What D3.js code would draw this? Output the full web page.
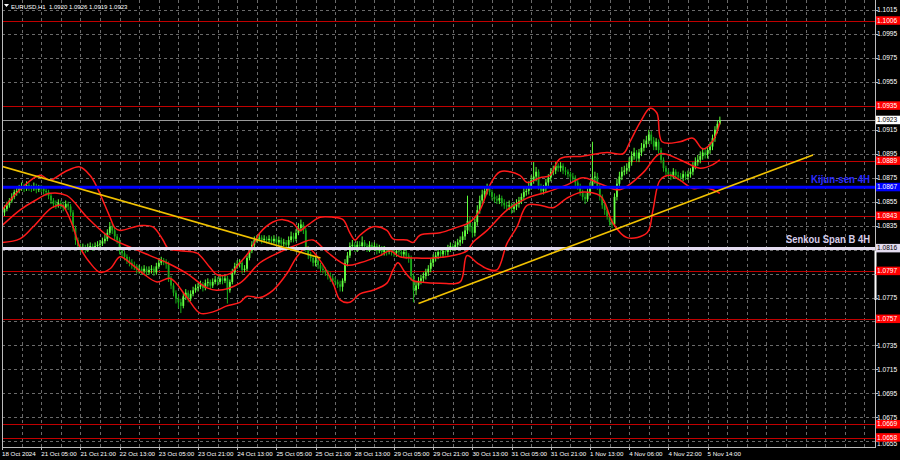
<!DOCTYPE html>
<html><head><meta charset="utf-8">
<script src="https://cdn.jsdelivr.net/npm/d3@7"></script>
<style>body{margin:0;background:#000}svg{display:block}</style>
</head><body><svg id="c" width="900" height="460"></svg>
<script>
const closes=[1.0846,1.0849,1.0852,1.0856,1.0859,1.0863,1.0864,1.0866,1.0868,1.0866,
1.0869,1.0867,1.0866,1.0868,1.0865,1.0867,1.0866,1.0864,1.0863,1.0860,
1.0856,1.0853,1.0852,1.0854,1.0852,1.0850,1.0853,1.0851,1.0846,1.0833,
1.0823,1.0818,1.0816,1.0817,1.0815,1.0817,1.0818,1.0817,1.0818,1.0819,
1.0820,1.0822,1.0824,1.0829,1.0834,1.0831,1.0826,1.0823,1.0814,1.0812,
1.0809,1.0806,1.0804,1.0802,1.0801,1.0798,1.0799,1.0797,1.0799,1.0796,
1.0798,1.0799,1.0796,1.0801,1.0804,1.0806,1.0805,1.0803,1.0791,1.0785,
1.0779,1.0774,1.0771,1.0768,1.0776,1.0779,1.0774,1.0778,1.0781,1.0783,
1.0784,1.0786,1.0783,1.0787,1.0788,1.0785,1.0788,1.0790,1.0788,1.0791,
1.0789,1.0791,1.0781,1.0788,1.0796,1.0801,1.0803,1.0804,1.0798,1.0799,
1.0808,1.0814,1.0819,1.0823,1.0824,1.0825,1.0823,1.0824,1.0823,1.0824,
1.0822,1.0824,1.0821,1.0823,1.0820,1.0821,1.0819,1.0823,1.0826,1.0824,
1.0829,1.0833,1.0836,1.0831,1.0816,1.0810,1.0808,1.0804,1.0806,1.0802,
1.0799,1.0798,1.0796,1.0793,1.0791,1.0789,1.0788,1.0786,1.0784,1.0789,
1.0804,1.0810,1.0818,1.0819,1.0816,1.0819,1.0818,1.0821,1.0818,1.0816,
1.0819,1.0817,1.0818,1.0814,1.0816,1.0813,1.0815,1.0813,1.0814,1.0813,
1.0812,1.0814,1.0813,1.0811,1.0813,1.0810,1.0808,1.0793,1.0781,1.0785,
1.0789,1.0791,1.0793,1.0796,1.0799,1.0804,1.0808,1.0810,1.0813,1.0811,
1.0814,1.0813,1.0816,1.0818,1.0817,1.0819,1.0821,1.0823,1.0826,1.0831,
1.0839,1.0834,1.0829,1.0838,1.0848,1.0856,1.0861,1.0864,1.0866,1.0863,
1.0859,1.0857,1.0856,1.0858,1.0854,1.0852,1.0851,1.0852,1.0849,1.0851,
1.0853,1.0856,1.0859,1.0863,1.0864,1.0868,1.0873,1.0876,1.0880,1.0868,
1.0864,1.0866,1.0871,1.0875,1.0880,1.0881,1.0885,1.0883,1.0885,1.0881,
1.0880,1.0878,1.0876,1.0875,1.0871,1.0868,1.0863,1.0859,1.0857,1.0863,
1.0868,1.0875,1.0876,1.0868,1.0859,1.0852,1.0848,1.0843,1.0838,1.0836,
1.0859,1.0870,1.0876,1.0880,1.0881,1.0883,1.0888,1.0893,1.0896,1.0891,
1.0896,1.0900,1.0903,1.0906,1.0911,1.0906,1.0901,1.0905,1.0898,1.0890,
1.0883,1.0880,1.0878,1.0876,1.0880,1.0877,1.0876,1.0875,1.0878,1.0876,
1.0878,1.0880,1.0885,1.0888,1.0890,1.0893,1.0896,1.0894,1.0898,1.0901,
1.0908,1.0915,1.0920,1.0923];
const opens=[1.0840,1.0846,1.0849,1.0852,1.0856,1.0859,1.0863,1.0864,1.0866,1.0868,
1.0866,1.0869,1.0867,1.0866,1.0868,1.0865,1.0867,1.0866,1.0864,1.0863,
1.0860,1.0856,1.0853,1.0852,1.0854,1.0852,1.0850,1.0853,1.0851,1.0846,
1.0833,1.0823,1.0818,1.0816,1.0817,1.0815,1.0817,1.0818,1.0817,1.0818,
1.0819,1.0820,1.0822,1.0824,1.0829,1.0834,1.0831,1.0826,1.0823,1.0814,
1.0812,1.0809,1.0806,1.0804,1.0802,1.0801,1.0798,1.0799,1.0797,1.0799,
1.0796,1.0798,1.0799,1.0796,1.0801,1.0804,1.0806,1.0805,1.0803,1.0791,
1.0785,1.0779,1.0774,1.0771,1.0768,1.0776,1.0779,1.0774,1.0778,1.0781,
1.0783,1.0784,1.0786,1.0783,1.0787,1.0788,1.0785,1.0788,1.0790,1.0788,
1.0791,1.0789,1.0791,1.0781,1.0788,1.0796,1.0801,1.0803,1.0804,1.0798,
1.0799,1.0808,1.0814,1.0819,1.0823,1.0824,1.0825,1.0823,1.0824,1.0823,
1.0824,1.0822,1.0824,1.0821,1.0823,1.0820,1.0821,1.0819,1.0823,1.0826,
1.0824,1.0829,1.0833,1.0836,1.0831,1.0816,1.0810,1.0808,1.0804,1.0806,
1.0802,1.0799,1.0798,1.0796,1.0793,1.0791,1.0789,1.0788,1.0786,1.0784,
1.0789,1.0804,1.0810,1.0818,1.0819,1.0816,1.0819,1.0818,1.0821,1.0818,
1.0816,1.0819,1.0817,1.0818,1.0814,1.0816,1.0813,1.0815,1.0813,1.0814,
1.0813,1.0812,1.0814,1.0813,1.0811,1.0813,1.0810,1.0808,1.0793,1.0781,
1.0785,1.0789,1.0791,1.0793,1.0796,1.0799,1.0804,1.0808,1.0810,1.0813,
1.0811,1.0814,1.0813,1.0816,1.0818,1.0817,1.0819,1.0821,1.0823,1.0826,
1.0831,1.0839,1.0834,1.0829,1.0838,1.0848,1.0856,1.0861,1.0864,1.0866,
1.0863,1.0859,1.0857,1.0856,1.0858,1.0854,1.0852,1.0851,1.0852,1.0849,
1.0851,1.0853,1.0856,1.0859,1.0863,1.0864,1.0868,1.0873,1.0876,1.0880,
1.0868,1.0864,1.0866,1.0871,1.0875,1.0880,1.0881,1.0885,1.0883,1.0885,
1.0881,1.0880,1.0878,1.0876,1.0875,1.0871,1.0868,1.0863,1.0859,1.0857,
1.0863,1.0868,1.0875,1.0876,1.0868,1.0859,1.0852,1.0848,1.0843,1.0838,
1.0836,1.0859,1.0870,1.0876,1.0880,1.0881,1.0883,1.0888,1.0893,1.0896,
1.0891,1.0896,1.0900,1.0903,1.0906,1.0911,1.0906,1.0901,1.0905,1.0898,
1.0890,1.0883,1.0880,1.0878,1.0876,1.0880,1.0877,1.0876,1.0875,1.0878,
1.0876,1.0878,1.0880,1.0885,1.0888,1.0890,1.0893,1.0896,1.0894,1.0898,
1.0901,1.0908,1.0915,1.0920];
const highs=[1.0849,1.0852,1.0855,1.0858,1.0862,1.0865,1.0867,1.0869,1.0871,1.0870,
1.0872,1.0871,1.0869,1.0871,1.0870,1.0869,1.0869,1.0868,1.0866,1.0865,
1.0862,1.0858,1.0856,1.0857,1.0856,1.0855,1.0856,1.0855,1.0853,1.0848,
1.0835,1.0825,1.0820,1.0820,1.0819,1.0820,1.0821,1.0820,1.0821,1.0822,
1.0823,1.0825,1.0828,1.0832,1.0838,1.0837,1.0833,1.0828,1.0825,1.0817,
1.0814,1.0811,1.0809,1.0807,1.0805,1.0803,1.0802,1.0801,1.0802,1.0801,
1.0801,1.0802,1.0801,1.0804,1.0808,1.0809,1.0808,1.0807,1.0805,1.0793,
1.0787,1.0781,1.0776,1.0774,1.0779,1.0782,1.0781,1.0781,1.0784,1.0786,
1.0787,1.0789,1.0788,1.0790,1.0791,1.0790,1.0791,1.0793,1.0792,1.0794,
1.0793,1.0794,1.0793,1.0790,1.0799,1.0804,1.0806,1.0807,1.0806,1.0802,
1.0810,1.0817,1.0822,1.0826,1.0827,1.0828,1.0827,1.0827,1.0826,1.0827,
1.0826,1.0827,1.0826,1.0826,1.0825,1.0824,1.0823,1.0826,1.0830,1.0829,
1.0832,1.0837,1.0840,1.0838,1.0833,1.0818,1.0813,1.0810,1.0809,1.0808,
1.0804,1.0802,1.0800,1.0798,1.0796,1.0794,1.0792,1.0790,1.0789,1.0791,
1.0807,1.0813,1.0821,1.0823,1.0821,1.0822,1.0822,1.0826,1.0823,1.0820,
1.0822,1.0821,1.0821,1.0820,1.0819,1.0818,1.0818,1.0817,1.0817,1.0816,
1.0815,1.0817,1.0816,1.0815,1.0816,1.0815,1.0812,1.0810,1.0795,1.0788,
1.0792,1.0794,1.0796,1.0799,1.0802,1.0807,1.0811,1.0813,1.0816,1.0815,
1.0817,1.0816,1.0819,1.0821,1.0820,1.0822,1.0824,1.0826,1.0830,1.0835,
1.0860,1.0843,1.0837,1.0841,1.0852,1.0860,1.0865,1.0868,1.0870,1.0868,
1.0865,1.0862,1.0860,1.0861,1.0860,1.0857,1.0855,1.0856,1.0854,1.0854,
1.0857,1.0859,1.0862,1.0867,1.0868,1.0872,1.0877,1.0888,1.0884,1.0882,
1.0870,1.0869,1.0874,1.0878,1.0883,1.0885,1.0888,1.0887,1.0888,1.0887,
1.0884,1.0882,1.0880,1.0879,1.0877,1.0873,1.0870,1.0865,1.0862,1.0866,
1.0871,1.0905,1.0880,1.0879,1.0870,1.0861,1.0854,1.0850,1.0845,1.0841,
1.0862,1.0874,1.0880,1.0884,1.0885,1.0887,1.0892,1.0897,1.0900,1.0898,
1.0899,1.0904,1.0907,1.0910,1.0915,1.0914,1.0909,1.0908,1.0907,1.0900,
1.0892,1.0885,1.0882,1.0880,1.0883,1.0882,1.0880,1.0879,1.0881,1.0880,
1.0881,1.0883,1.0888,1.0892,1.0894,1.0897,1.0900,1.0899,1.0901,1.0905,
1.0911,1.0918,1.0923,1.0926];
const lows=[1.0837,1.0843,1.0847,1.0850,1.0854,1.0857,1.0860,1.0862,1.0864,1.0863,
1.0864,1.0864,1.0863,1.0864,1.0862,1.0863,1.0863,1.0861,1.0860,1.0857,
1.0853,1.0850,1.0849,1.0850,1.0849,1.0847,1.0848,1.0848,1.0843,1.0830,
1.0819,1.0815,1.0813,1.0814,1.0812,1.0813,1.0815,1.0814,1.0815,1.0816,
1.0817,1.0818,1.0820,1.0822,1.0827,1.0828,1.0823,1.0820,1.0811,1.0809,
1.0806,1.0803,1.0801,1.0799,1.0798,1.0795,1.0795,1.0794,1.0795,1.0793,
1.0794,1.0795,1.0793,1.0794,1.0799,1.0802,1.0802,1.0799,1.0788,1.0782,
1.0776,1.0770,1.0766,1.0762,1.0766,1.0773,1.0771,1.0772,1.0776,1.0779,
1.0780,1.0782,1.0780,1.0781,1.0784,1.0782,1.0783,1.0786,1.0785,1.0786,
1.0786,1.0787,1.0770,1.0779,1.0786,1.0794,1.0799,1.0800,1.0795,1.0796,
1.0797,1.0806,1.0812,1.0817,1.0821,1.0822,1.0820,1.0821,1.0820,1.0821,
1.0819,1.0820,1.0818,1.0819,1.0817,1.0818,1.0816,1.0817,1.0821,1.0821,
1.0822,1.0827,1.0830,1.0828,1.0813,1.0807,1.0805,1.0801,1.0801,1.0799,
1.0796,1.0795,1.0793,1.0790,1.0788,1.0786,1.0785,1.0783,1.0780,1.0780,
1.0787,1.0801,1.0808,1.0815,1.0813,1.0813,1.0815,1.0815,1.0815,1.0813,
1.0813,1.0814,1.0814,1.0811,1.0812,1.0810,1.0810,1.0810,1.0811,1.0810,
1.0809,1.0809,1.0810,1.0808,1.0808,1.0807,1.0804,1.0789,1.0771,1.0777,
1.0782,1.0786,1.0788,1.0790,1.0793,1.0796,1.0801,1.0805,1.0807,1.0808,
1.0808,1.0810,1.0810,1.0813,1.0814,1.0814,1.0816,1.0818,1.0820,1.0823,
1.0828,1.0830,1.0825,1.0826,1.0835,1.0845,1.0853,1.0858,1.0861,1.0860,
1.0856,1.0854,1.0853,1.0853,1.0851,1.0849,1.0847,1.0848,1.0845,1.0846,
1.0848,1.0850,1.0853,1.0856,1.0860,1.0861,1.0865,1.0870,1.0872,1.0865,
1.0861,1.0861,1.0863,1.0868,1.0872,1.0877,1.0878,1.0880,1.0880,1.0878,
1.0877,1.0875,1.0873,1.0872,1.0868,1.0865,1.0860,1.0856,1.0853,1.0855,
1.0860,1.0866,1.0870,1.0865,1.0856,1.0849,1.0844,1.0840,1.0835,1.0833,
1.0834,1.0856,1.0867,1.0873,1.0877,1.0878,1.0880,1.0885,1.0890,1.0888,
1.0888,1.0893,1.0897,1.0900,1.0903,1.0903,1.0898,1.0898,1.0895,1.0887,
1.0880,1.0877,1.0875,1.0873,1.0874,1.0874,1.0873,1.0872,1.0872,1.0873,
1.0873,1.0875,1.0877,1.0882,1.0885,1.0887,1.0890,1.0891,1.0891,1.0895,
1.0898,1.0905,1.0912,1.0919];

// Bollinger-style envelope: [bar index, price]
const bandUpper=[[0,1.0848],[7.3,1.0865],[15.5,1.0877],[19.6,1.0873],[25.7,1.0880],[31.8,1.0884],[35.9,1.0877],[38.8,1.0867],[42,1.0852],[44.1,1.0842],[46.1,1.0833],[48.2,1.0831],[56.3,1.0835],[61.6,1.0834],[65.7,1.0823],[67.8,1.0816],[72.7,1.0814],[79.6,1.0812],[84.9,1.0800],[87.8,1.0794],[93.1,1.0795],[97.1,1.0804],[101.2,1.0814],[105.3,1.0829],[110.6,1.0838],[114.7,1.0840],[118.8,1.0837],[121.6,1.0831],[124.5,1.0835],[129.8,1.0842],[135.1,1.0842],[139.2,1.0840],[142,1.0829],[144.1,1.0823],[146.1,1.0827],[151.4,1.0834],[157.1,1.0831],[159.6,1.0824],[165.3,1.0823],[167.8,1.0821],[170.6,1.0827],[178.8,1.0829],[184.9,1.0833],[191,1.0838],[195.1,1.0848],[199.2,1.0869],[203.3,1.0880],[211.4,1.0877],[214.3,1.0871],[219.6,1.0875],[223.7,1.0877],[227.8,1.0891],[237.1,1.0893],[246.9,1.0896],[253.5,1.0895],[256.3,1.0905],[260.4,1.0921],[264.5,1.0933],[267.3,1.0929],[269.4,1.0905],[276.7,1.0905],[282,1.0908],[286.1,1.0899],[290.2,1.0906],[293,1.0921]];
const bandMiddle=[[0,1.0835],[7.3,1.0848],[13.5,1.0856],[19.6,1.0862],[26.5,1.0860],[34.7,1.0842],[44.1,1.0825],[53.5,1.0816],[60.4,1.0810],[67.3,1.0804],[75.5,1.0795],[83.7,1.0783],[87.8,1.0781],[97.1,1.0787],[105.3,1.0804],[113.5,1.0813],[121.6,1.0820],[126.9,1.0823],[132.7,1.0813],[140.8,1.0802],[146.1,1.0804],[154.3,1.0810],[158.4,1.0814],[162.4,1.0809],[169.4,1.0808],[175.9,1.0808],[184.1,1.0810],[189.8,1.0814],[192.2,1.0821],[198,1.0831],[206.1,1.0848],[214.3,1.0858],[222.4,1.0863],[230.6,1.0869],[237.1,1.0875],[244.1,1.0870],[252.2,1.0865],[261.6,1.0879],[268.6,1.0895],[276.7,1.0890],[284.9,1.0883],[290.2,1.0886],[293,1.0890]];
const bandLower=[[0,1.0821],[7.3,1.0824],[12.7,1.0834],[20.4,1.0850],[24.5,1.0852],[26.5,1.0846],[29,1.0834],[31.8,1.0817],[35.9,1.0804],[40,1.0796],[44.1,1.0799],[48.2,1.0809],[52.2,1.0804],[57.6,1.0795],[63.3,1.0788],[68.6,1.0791],[75.5,1.0775],[80.8,1.0762],[86.1,1.0763],[91.8,1.0768],[97.1,1.0771],[100,1.0776],[105.3,1.0775],[110.6,1.0781],[116.3,1.0795],[120.4,1.0809],[124.5,1.0817],[129.8,1.0806],[135.1,1.0787],[138,1.0773],[142,1.0771],[146.1,1.0778],[151.4,1.0781],[157.1,1.0787],[159.6,1.0798],[161.6,1.0804],[164.5,1.0796],[167.8,1.0789],[170.6,1.0788],[178.8,1.0787],[187,1.0788],[189.8,1.0810],[193.9,1.0804],[198,1.0799],[202,1.0798],[206.1,1.0820],[210.2,1.0834],[214.3,1.0852],[219.6,1.0852],[224.9,1.0850],[230.6,1.0858],[237.1,1.0863],[244.1,1.0860],[246.1,1.0854],[249.4,1.0837],[255.1,1.0825],[263.3,1.0829],[265.7,1.0848],[268.6,1.0873],[272.7,1.0877],[276.7,1.0873],[282,1.0866],[286.1,1.0867],[290.2,1.0865],[293,1.0862]];

const trendDown=[[-1,1.0885],[130,1.0808]];
const trendUp=[[170,1.0770],[331,1.0894]];

const redLevels=[1.1006,1.0935,1.0889,1.0843,1.0797,1.0757,1.0669,1.0658];
const kijunLevel=1.0867, senkouLevel=1.0816, bidLevel=1.0923;
const priceTicks=[1.1015,1.0995,1.0975,1.0955,1.0935,1.0915,1.0895,1.0875,1.0855,1.0835,1.0815,1.0795,1.0775,1.0755,1.0735,1.0715,1.0695,1.0675,1.0655];
const timeLabels=["18 Oct 2024","21 Oct 05:00","21 Oct 21:00","22 Oct 13:00","23 Oct 05:00","23 Oct 21:00","24 Oct 13:00","25 Oct 05:00","25 Oct 21:00","28 Oct 13:00","29 Oct 05:00","29 Oct 21:00","30 Oct 13:00","31 Oct 05:00","31 Oct 21:00","1 Nov 13:00","4 Nov 06:00","4 Nov 22:00","5 Nov 14:00"];
const title="EURUSD,H1  1.0920 1.0926 1.0919 1.0923";

const svg=d3.select("#c");
const W=900,H=460, left=2, right=875, bottom=447;
const x=d3.scaleLinear().domain([0,293]).range([2,2+293*2.45]);
const y=d3.scaleLinear().domain([1.0675,1.1015]).range([417.3,10]);
const font="Liberation Sans, Arial, sans-serif";
const fmt=d3.format(".4f");

svg.append("rect").attr("width",W).attr("height",H).attr("fill","#000");
const plot=svg.append("g");
svg.append("clipPath").attr("id","pc").append("rect").attr("x",left).attr("y",0).attr("width",right-left).attr("height",bottom);
const pg=plot.append("g").attr("clip-path","url(#pc)");

// grid
const gridStyle=s=>s.attr("stroke","#6a6a6a").attr("stroke-width",1).attr("stroke-dasharray","3,3").attr("shape-rendering","crispEdges");
pg.selectAll("line.hg").data(priceTicks).join("line").attr("class","hg")
  .attr("x1",left).attr("x2",right).attr("y1",d=>Math.round(y(d))+0.5).attr("y2",d=>Math.round(y(d))+0.5).call(gridStyle);
const vIdx=d3.range(0,360,8).filter(i=>x(i)<right-2);
pg.selectAll("line.vg").data(vIdx).join("line").attr("class","vg")
  .attr("x1",d=>Math.round(x(d))+0.5).attr("x2",d=>Math.round(x(d))+0.5).attr("y1",0).attr("y2",bottom).call(gridStyle);

// red levels
pg.selectAll("line.rl").data(redLevels).join("line").attr("class","rl")
  .attr("x1",left).attr("x2",right).attr("y1",d=>Math.round(y(d))+0.5).attr("y2",d=>Math.round(y(d))+0.5)
  .attr("stroke","#c00000").attr("stroke-width",1).attr("shape-rendering","crispEdges");
// bid line
pg.append("line").attr("x1",left).attr("x2",right).attr("y1",Math.round(y(bidLevel))+0.5).attr("y2",Math.round(y(bidLevel))+0.5)
  .attr("stroke","#9a9a9a").attr("stroke-width",1).attr("shape-rendering","crispEdges");

// candles
const bars=closes.map((c,i)=>({i,o:opens[i],h:highs[i],l:lows[i],c}));
const cg=pg.append("g");
cg.selectAll("line.w").data(bars).join("line")
  .attr("x1",d=>x(d.i)).attr("x2",d=>x(d.i)).attr("y1",d=>y(d.h)).attr("y2",d=>y(d.l))
  .attr("stroke",d=>d.c>=d.o?"#5cff3a":"#16b016").attr("stroke-width",1);
cg.selectAll("rect.b").data(bars).join("rect")
  .attr("x",d=>x(d.i)-0.9).attr("width",1.8)
  .attr("y",d=>y(Math.max(d.o,d.c))).attr("height",d=>Math.max(1,Math.abs(y(d.o)-y(d.c))))
  .attr("fill",d=>d.c>=d.o?"#66ff44":"#1aa81a");

// bands
const bl=d3.line().x(d=>x(d[0])).y(d=>y(d[1])).curve(d3.curveCatmullRom.alpha(0.5));
[bandUpper,bandMiddle,bandLower].forEach(b=>{
  pg.append("path").attr("d",bl(b)).attr("fill","none").attr("stroke","#ff1a1a").attr("stroke-width",1.5);
});

// kijun & senkou lines
pg.append("line").attr("x1",left).attr("x2",right).attr("y1",y(kijunLevel)).attr("y2",y(kijunLevel))
  .attr("stroke","#0000ff").attr("stroke-width",3);
pg.append("line").attr("x1",left).attr("x2",right).attr("y1",y(senkouLevel)).attr("y2",y(senkouLevel))
  .attr("stroke","#e4dcf0").attr("stroke-width",3);

// trend lines
const tl=d3.line().x(d=>x(d[0])).y(d=>y(d[1]));
[trendDown,trendUp].forEach(t=>{
  pg.append("path").attr("d",tl(t)).attr("stroke","#f2c200").attr("stroke-width",1.6).attr("fill","none");
});

// text labels on lines
pg.append("text").attr("x",870).attr("y",y(kijunLevel)-4).attr("text-anchor","end")
  .attr("font-family",font).attr("font-weight","bold").attr("font-size",11).attr("textLength",59).attr("lengthAdjust","spacingAndGlyphs")
  .attr("fill","#2a2aff").text("Kijun-sen 4H");
pg.append("text").attr("x",870).attr("y",y(senkouLevel)-5).attr("text-anchor","end")
  .attr("font-family",font).attr("font-weight","bold").attr("font-size",11).attr("textLength",84).attr("lengthAdjust","spacingAndGlyphs")
  .attr("fill","#d6cdea").text("Senkou Span B 4H");

// frame
svg.append("path").attr("d",`M${left+0.5},0V${bottom+0.5}H${right+0.5}V0`).attr("fill","none").attr("stroke","#bdbdbd").attr("stroke-width",1).attr("shape-rendering","crispEdges");
svg.append("line").attr("x1",right+0.5).attr("x2",right+0.5).attr("y1",y(senkouLevel)+2).attr("y2",300).attr("stroke","#ffffff").attr("stroke-width",2);

// price tick labels (those hidden under a level label box are not printed)
const boxVals=[...redLevels,kijunLevel,senkouLevel,bidLevel];
const shownTicks=priceTicks.filter(t=>t===1.0655||boxVals.every(v=>Math.abs(y(v)-y(t))>5.5));
const ax=svg.append("g").attr("font-family",font).attr("font-size",6.6);
ax.selectAll("line.t").data(priceTicks).join("line").attr("x1",right).attr("x2",right+3)
  .attr("y1",d=>Math.round(y(d))+0.5).attr("y2",d=>Math.round(y(d))+0.5).attr("stroke","#bdbdbd");
ax.selectAll("text.t").data(shownTicks).join("text").attr("x",877)
  .attr("y",d=>y(d)+(d===1.0655?2.5:0)-(boxVals.some(v=>Math.abs(y(v)-y(d))<=7&&y(v)>y(d))?1:0)).attr("dy","0.35em")
  .attr("fill","#ffffff").text(d=>fmt(d));
// level labels
const boxes=[...redLevels.map(v=>({v,bg:"#ff0000",fg:"#ffffff"})),{v:kijunLevel,bg:"#0000ff",fg:"#ffffff"},{v:senkouLevel,bg:"#e4dcf0",fg:"#000000"},{v:bidLevel,bg:"#ffffff",fg:"#000000"}];
const bg=ax.selectAll("g.box").data(boxes).join("g");
bg.append("rect").attr("x",876).attr("width",24).attr("y",d=>y(d.v)-4.5).attr("height",8.5).attr("fill",d=>d.bg);
bg.append("text").attr("x",877).attr("y",d=>y(d.v)-0.3).attr("dy","0.35em").attr("fill",d=>d.fg).text(d=>fmt(d.v));

// time labels
const tg=svg.append("g").attr("font-family",font).attr("font-size",6.2).attr("fill","#ffffff");
tg.selectAll("text").data(timeLabels).join("text").attr("x",(d,i)=>x(i*16)).attr("y",456).text(d=>d);
tg.selectAll("line").data(timeLabels).join("line").attr("x1",(d,i)=>Math.round(x(i*16))+0.5).attr("x2",(d,i)=>Math.round(x(i*16))+0.5)
  .attr("y1",bottom).attr("y2",bottom+3).attr("stroke","#bdbdbd");

// title
svg.append("path").attr("d","M4,4H9L6.5,7Z").attr("fill","#ffffff");
svg.append("text").attr("x",11).attr("y",8.5).attr("font-family",font).attr("font-size",6).attr("fill","#ffffff")
  .style("white-space","pre").text(title);
</script></body></html>
